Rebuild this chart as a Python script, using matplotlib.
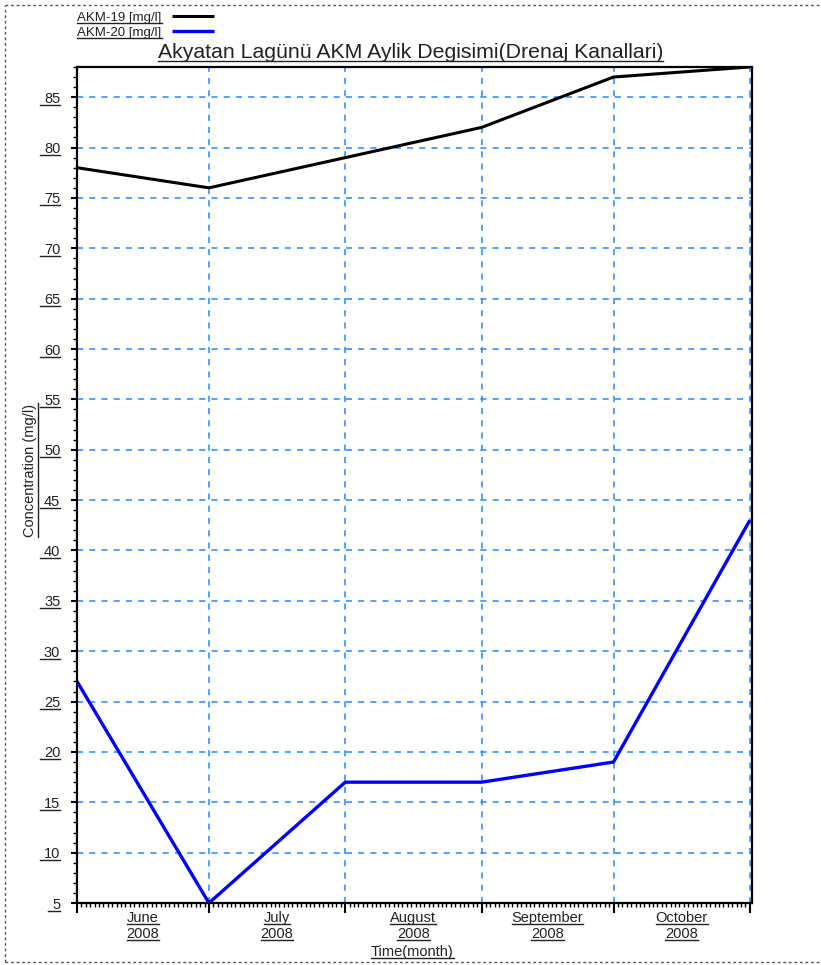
import datetime as dt
import matplotlib
matplotlib.use("Agg")
import matplotlib.pyplot as plt
import matplotlib.dates as mdates
import matplotlib.transforms as mtrans
from matplotlib.lines import Line2D
from matplotlib.ticker import MultipleLocator

plt.rcParams['font.family'] = ['Liberation Sans', 'DejaVu Sans']

# monthly AKM measurements, drainage channels
dates = [dt.datetime(2008, 6, 1), dt.datetime(2008, 7, 1), dt.datetime(2008, 8, 1),
         dt.datetime(2008, 9, 1), dt.datetime(2008, 10, 1), dt.datetime(2008, 11, 1)]
akm19 = [78, 76, 79, 82, 87, 88]
akm20 = [27, 5, 17, 17, 19, 43]
months = ["June", "July", "August", "September", "October"]
year = "2008"

TXT = "#222222"
GRID = "#1e8cff"
YMIN, YMAX = 5, 88

fig = plt.figure(figsize=(8.21, 9.65), dpi=100)
ax = fig.add_axes([0.0938, 0.0642, 0.8222, 0.8664])

ax.plot(dates, akm19, color="black", lw=2.2, label="AKM-19 [mg/l]", solid_capstyle="butt")
ax.plot(dates, akm20, color="#0000ff", lw=2.4, label="AKM-20 [mg/l]", solid_capstyle="butt")

ax.set_xlim(dates[0], dates[-1] + dt.timedelta(hours=12))
ax.set_ylim(YMIN, YMAX)

ax.xaxis.set_major_locator(mdates.MonthLocator())
ax.xaxis.set_minor_locator(mdates.DayLocator())
ax.xaxis.set_major_formatter(plt.NullFormatter())
ax.yaxis.set_major_locator(MultipleLocator(5))
ax.yaxis.set_minor_locator(MultipleLocator(1))

ax.tick_params(axis="x", which="major", length=7, width=1.5, direction="out")
ax.tick_params(axis="x", which="minor", length=3, width=1.0, direction="out")
ax.tick_params(axis="y", which="major", length=4, width=1.5, direction="out",
               pad=8, labelsize=10.5, labelcolor=TXT)
ax.tick_params(axis="y", which="minor", length=3, width=1.0, direction="out")

for s in ax.spines.values():
    s.set_linewidth(1.6)

ax.grid(True, which="major", color=GRID, ls=(0, (4, 4)), lw=1.1)
ax.set_axisbelow(True)

# month / year labels centred inside each month
trans = mtrans.blended_transform_factory(ax.transData, ax.transAxes)
under = []
for i, m in enumerate(months):
    mid = dates[i] + (dates[i + 1] - dates[i]) / 2
    t1 = ax.text(mid, -0.018, m, transform=trans, ha="center", va="center",
                 fontsize=10.5, color=TXT)
    t2 = ax.text(mid, -0.037, year, transform=trans, ha="center", va="center",
                 fontsize=10.5, color=TXT)
    under += [t1, t2]

xl = fig.text(0.502, 0.0135, "Time(month)", ha="center", va="center", fontsize=10.5, color=TXT)
yl = fig.text(0.037, 0.513, "Concentration (mg/l)", ha="center", va="center",
              rotation=90, fontsize=10.5, color=TXT)
title = fig.text(0.5, 0.946, "Akyatan Lagünü AKM Aylik Degisimi(Drenaj Kanallari)",
                 ha="center", va="center", fontsize=15.3, color=TXT)
under += [xl, yl, title]

leg = ax.legend(loc="upper left", bbox_to_anchor=(0.094, 0.988),
                bbox_transform=fig.transFigure, frameon=False, markerfirst=False,
                fontsize=9.5, handlelength=3.2, handletextpad=0.8, labelspacing=0.2,
                borderpad=0, borderaxespad=0)
for t in leg.get_texts():
    t.set_color(TXT)
under += list(leg.get_texts())

# dotted page frame
frame_kw = dict(color="#555555", lw=1.0, ls=(0, (2, 2)), transform=fig.transFigure)
fig.add_artist(Line2D([0.006, 1.0], [0.995, 0.995], **frame_kw))
fig.add_artist(Line2D([0.006, 0.006], [0.003, 0.995], **frame_kw))
fig.add_artist(Line2D([0.006, 1.0], [0.003, 0.003], **frame_kw))

# underline every piece of text
fig.canvas.draw()
r = fig.canvas.get_renderer()
inv = fig.transFigure.inverted()


def underline(t, ext_left=0, vertical=False):
    bb = t.get_window_extent(r)
    if vertical:
        (x0, y0), (x1, y1) = inv.transform([(bb.x1 + 1, bb.y0), (bb.x1 + 1, bb.y1)])
    else:
        (x0, y0), (x1, y1) = inv.transform([(bb.x0 - ext_left, bb.y0 + 1), (bb.x1, bb.y0 + 1)])
    fig.add_artist(Line2D([x0, x1], [y0, y1], color=TXT, lw=1.0, transform=fig.transFigure))


for t in under:
    underline(t, vertical=(t is yl))
for tick in ax.yaxis.get_major_ticks():
    if YMIN <= tick.get_loc() <= YMAX:
        underline(tick.label1, ext_left=4)

fig.savefig("out.png", dpi=100)
